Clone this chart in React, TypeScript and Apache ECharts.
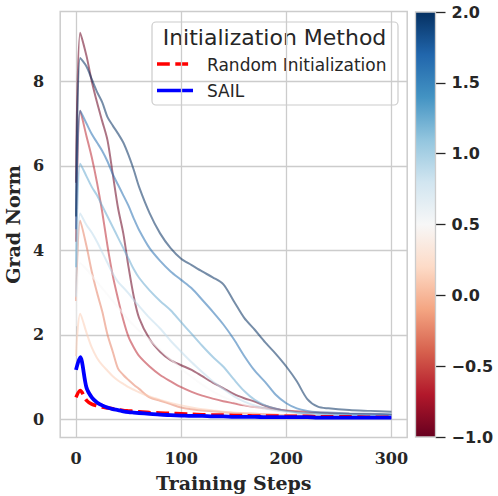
import React, { useEffect, useRef } from 'react';
import * as echarts from 'echarts';

// ---------------- data ----------------
const steps = [0, 4, 10, 15, 20, 25, 30, 35, 40, 45, 50, 55, 60, 70, 80, 90, 100, 110, 120, 130, 140, 150, 160, 170, 180, 190, 200, 210, 220, 230, 240, 260, 280, 300];

// colour value of each sweep curve (colorbar scale)
const scaleValues = [-1, -0.625, -0.25, 0.125, 0.5, 0.875, 1.25, 1.625, 2];

const gradNeg1 = [5.6, 9.15, 8.6, 8.0, 7.5, 7.05, 6.6, 5.8, 5.0, 4.4, 3.6, 2.9, 2.4, 1.9, 1.6, 1.4, 1.28, 1.17, 1.02, 0.87, 0.74, 0.6, 0.5, 0.42, 0.32, 0.25, 0.2, 0.17, 0.15, 0.14, 0.13, 0.12, 0.11, 0.1];
const gradNeg0625 = [4.2, 7.3, 6.7, 6.2, 5.6, 4.9, 4.1, 3.4, 2.85, 2.35, 1.95, 1.7, 1.5, 1.25, 1.05, 0.9, 0.76, 0.65, 0.56, 0.49, 0.43, 0.38, 0.33, 0.29, 0.26, 0.23, 0.21, 0.19, 0.17, 0.16, 0.15, 0.13, 0.12, 0.1];
const gradNeg025 = [2.8, 4.7, 4.1, 3.5, 3.0, 2.55, 2.0, 1.6, 1.2, 1.05, 0.93, 0.82, 0.72, 0.52, 0.44, 0.36, 0.28, 0.24, 0.21, 0.19, 0.17, 0.15, 0.14, 0.13, 0.12, 0.11, 0.1, 0.09, 0.09, 0.08, 0.08, 0.07, 0.07, 0.06];
const grad0125 = [1.5, 2.5, 2.05, 1.7, 1.45, 1.28, 1.15, 1.02, 0.92, 0.84, 0.76, 0.7, 0.64, 0.54, 0.46, 0.39, 0.33, 0.28, 0.24, 0.21, 0.18, 0.16, 0.14, 0.13, 0.12, 0.11, 0.1, 0.09, 0.09, 0.08, 0.08, 0.07, 0.07, 0.06];
const grad05 = [2.2, 3.7, 3.55, 3.4, 3.25, 3.1, 2.95, 2.8, 2.65, 2.5, 2.35, 2.22, 2.1, 1.88, 1.65, 1.42, 1.2, 1.0, 0.82, 0.66, 0.53, 0.43, 0.35, 0.29, 0.24, 0.2, 0.17, 0.15, 0.13, 0.12, 0.11, 0.1, 0.09, 0.08];
const grad0875 = [2.9, 4.87, 4.6, 4.42, 4.2, 3.95, 3.7, 3.45, 3.25, 3.12, 2.98, 2.82, 2.68, 2.4, 2.15, 1.86, 1.6, 1.35, 1.12, 0.9, 0.72, 0.55, 0.42, 0.33, 0.26, 0.21, 0.18, 0.15, 0.13, 0.12, 0.11, 0.1, 0.09, 0.08];
const grad125 = [3.6, 6.05, 5.75, 5.5, 5.3, 5.05, 4.8, 4.55, 4.3, 4.05, 3.8, 3.55, 3.35, 3.05, 2.8, 2.58, 2.3, 2.02, 1.74, 1.48, 1.25, 0.95, 0.67, 0.46, 0.33, 0.25, 0.2, 0.17, 0.15, 0.14, 0.13, 0.12, 0.11, 0.1];
const grad1625 = [4.5, 7.3, 7.0, 6.75, 6.55, 6.35, 6.1, 5.8, 5.55, 5.3, 5.05, 4.75, 4.48, 4.05, 3.75, 3.5, 3.3, 3.1, 2.83, 2.55, 2.25, 1.9, 1.5, 1.15, 0.88, 0.58, 0.38, 0.26, 0.2, 0.17, 0.16, 0.14, 0.13, 0.12];
const grad2 = [4.8, 8.55, 8.35, 8.05, 7.75, 7.5, 7.15, 6.95, 6.76, 6.55, 6.25, 5.9, 5.5, 4.88, 4.4, 4.05, 3.8, 3.65, 3.5, 3.36, 3.2, 2.8, 2.4, 2.12, 1.82, 1.55, 1.25, 0.9, 0.48, 0.3, 0.26, 0.22, 0.2, 0.18];

const sweepCurves = [gradNeg1, gradNeg0625, gradNeg025, grad0125, grad05, grad0875, grad125, grad1625, grad2];

const randomInit = [0.52, 0.68, 0.45, 0.36, 0.32, 0.29, 0.27, 0.25, 0.23, 0.21, 0.2, 0.19, 0.18, 0.16, 0.15, 0.14, 0.13, 0.12, 0.11, 0.1, 0.1, 0.09, 0.09, 0.08, 0.08, 0.08, 0.07, 0.07, 0.07, 0.06, 0.06, 0.06, 0.05, 0.05];
const sail = [1.17, 1.47, 0.75, 0.52, 0.4, 0.33, 0.28, 0.24, 0.22, 0.19, 0.17, 0.16, 0.15, 0.13, 0.11, 0.1, 0.09, 0.08, 0.08, 0.07, 0.07, 0.06, 0.06, 0.06, 0.05, 0.05, 0.05, 0.05, 0.05, 0.04, 0.04, 0.04, 0.04, 0.04];

const xTicks = [0, 100, 200, 300];
const yTicks = [0, 2, 4, 6, 8];
const cbMin = -1;
const cbMax = 2;

const legendTitle = 'Initialization Method';
const nameRandom = 'Random Initialization';
const nameSail = 'SAIL';

// ---------------- colormap ----------------
const RDBU = ['#67001f', '#b2182b', '#d6604d', '#f4a582', '#fddbc7', '#f7f7f7', '#d1e5f0', '#92c5de', '#4393c3', '#2166ac', '#053061'];
function hexToRgb(h: string) {
  return [parseInt(h.slice(1, 3), 16), parseInt(h.slice(3, 5), 16), parseInt(h.slice(5, 7), 16)];
}
function rdbu(v: number) {
  let t = (v - cbMin) / (cbMax - cbMin);
  t = Math.max(0, Math.min(1, t));
  const p = t * 10;
  const i = Math.min(9, Math.floor(p));
  const f = p - i;
  const a = hexToRgb(RDBU[i]);
  const b = hexToRgb(RDBU[i + 1]);
  const c = a.map((x, k) => Math.round(x + (b[k] - x) * f));
  return `rgb(${c[0]},${c[1]},${c[2]})`;
}

const serifBold = { fontFamily: 'DejaVu Serif', fontWeight: 'bold' as const, color: '#262626' };

export default function App() {
  const ref = useRef<HTMLDivElement>(null);
  useEffect(() => {
    if (!ref.current) return;
    const chart = echarts.init(ref.current, null, { renderer: 'svg' });

    const sweepSeries = sweepCurves.map((vals, idx) => ({
      type: 'line',
      xAxisIndex: 0,
      yAxisIndex: 0,
      data: steps.map((s, i) => [s, vals[i]]),
      showSymbol: false,
      symbol: 'none',
      smooth: 0.3,
      lineStyle: { color: rdbu(scaleValues[idx]), width: 2, opacity: 0.55 },
      silent: true,
      z: 2,
    }));

    const gradStops = RDBU.map((c, i) => ({ offset: i / 10, color: RDBU[10 - i] }));

    const option: any = {
      animation: false,
      backgroundColor: '#ffffff',
      grid: [
        { left: 60.2, top: 11.5, width: 347, height: 426, show: true, borderColor: '#cccccc', borderWidth: 1.5, backgroundColor: 'transparent', containLabel: false, outerBoundsMode: 'none' },
        { left: 415.5, top: 12, width: 20, height: 425, show: false, containLabel: false, outerBoundsMode: 'none' },
      ],
      xAxis: [
        {
          type: 'value', gridIndex: 0, min: -15, max: 315, splitNumber: 3,
          axisLine: { show: false, onZero: false },
          axisTick: { show: false, customValues: xTicks },
          splitLine: { show: true, lineStyle: { color: '#cccccc', width: 1.3 } },
          axisLabel: { customValues: xTicks, margin: 13, fontSize: 16, ...serifBold },
          name: 'Training Steps', nameLocation: 'middle', nameGap: 36,
          nameTextStyle: { fontSize: 19, ...serifBold },
        },
        { type: 'value', gridIndex: 1, min: 0, max: 1, show: false },
      ],
      yAxis: [
        {
          type: 'value', gridIndex: 0, min: -0.43, max: 9.65, splitNumber: 5,
          axisLine: { show: false, onZero: false },
          axisTick: { show: false, customValues: yTicks },
          splitLine: { show: true, lineStyle: { color: '#cccccc', width: 1.3 } },
          axisLabel: { customValues: yTicks, margin: 16, fontSize: 16, ...serifBold },
          name: 'Grad Norm', nameLocation: 'middle', nameGap: 30.5,
          nameTextStyle: { fontSize: 19, ...serifBold },
        },
        {
          type: 'value', gridIndex: 1, min: cbMin, max: cbMax, interval: 0.5, position: 'right',
          axisLine: { show: false, onZero: false },
          axisTick: { show: true, length: 10, lineStyle: { color: '#262626', width: 1.3 } },
          splitLine: { show: false },
          axisLabel: {
            margin: 16, fontSize: 16, fontFamily: 'DejaVu Sans', fontWeight: 'bold', color: '#262626',
            formatter: (v: number) => (v < 0 ? '\u2212' : '') + Math.abs(v).toFixed(1),
          },
        },
      ],
      series: [
        ...sweepSeries,
        {
          type: 'line', name: nameRandom, xAxisIndex: 0, yAxisIndex: 0,
          data: steps.map((s, i) => [s, randomInit[i]]),
          showSymbol: false, symbol: 'none', smooth: 0.3, silent: true, z: 3,
          lineStyle: { color: '#ff0000', width: 3.5, type: [12.8, 5.5] },
        },
        {
          type: 'line', name: nameSail, xAxisIndex: 0, yAxisIndex: 0,
          data: steps.map((s, i) => [s, sail[i]]),
          showSymbol: false, symbol: 'none', smooth: 0.3, silent: true, z: 4,
          lineStyle: { color: '#0000ff', width: 3.8 },
        },
        {
          type: 'custom', xAxisIndex: 1, yAxisIndex: 1, silent: true,
          data: [[0.5, cbMax]],
          renderItem: (params: any, api: any) => {
            const cs = params.coordSys;
            const top = api.coord([0.5, cbMax]);
            const bottom = api.coord([0.5, cbMin]);
            return {
              type: 'rect',
              shape: { x: cs.x, y: top[1], width: cs.width, height: bottom[1] - top[1] },
              style: {
                fill: new echarts.graphic.LinearGradient(0, 0, 0, 1, gradStops),
                stroke: '#cccccc',
                lineWidth: 1.3,
              },
            };
          },
        },
      ],
      graphic: [
        {
          type: 'group', z: 100,
          children: [
            { type: 'rect', shape: { x: 152, y: 22, width: 246, height: 83, r: 4 }, style: { fill: 'rgba(255,255,255,0.8)', stroke: '#cccccc', lineWidth: 1.2 } },
            { type: 'text', x: 274.5, y: 37.5, style: { text: legendTitle, fontSize: 22, fontFamily: 'DejaVu Sans', fill: '#262626', align: 'center', verticalAlign: 'middle', textAlign: 'center', textVerticalAlign: 'middle' } },
            { type: 'line', shape: { x1: 157, y1: 64, x2: 193, y2: 64 }, style: { stroke: '#ff0000', lineWidth: 3.5, lineDash: [12.8, 5.5] } },
            { type: 'text', x: 207, y: 64.5, style: { text: nameRandom, fontSize: 17, fontFamily: 'DejaVu Sans', fill: '#262626', align: 'left', verticalAlign: 'middle', textAlign: 'left', textVerticalAlign: 'middle' } },
            { type: 'line', shape: { x1: 157, y1: 90.5, x2: 193, y2: 90.5 }, style: { stroke: '#0000ff', lineWidth: 3.5 } },
            { type: 'text', x: 207, y: 90.5, style: { text: nameSail, fontSize: 17, fontFamily: 'DejaVu Sans', fill: '#262626', align: 'left', verticalAlign: 'middle', textAlign: 'left', textVerticalAlign: 'middle' } },
          ],
        },
      ],
    };
    chart.setOption(option);
    return () => chart.dispose();
  }, []);
  return <div ref={ref} style={{ position: 'fixed', left: 0, top: 0, width: 498, height: 496, background: '#fff' }} />;
}
